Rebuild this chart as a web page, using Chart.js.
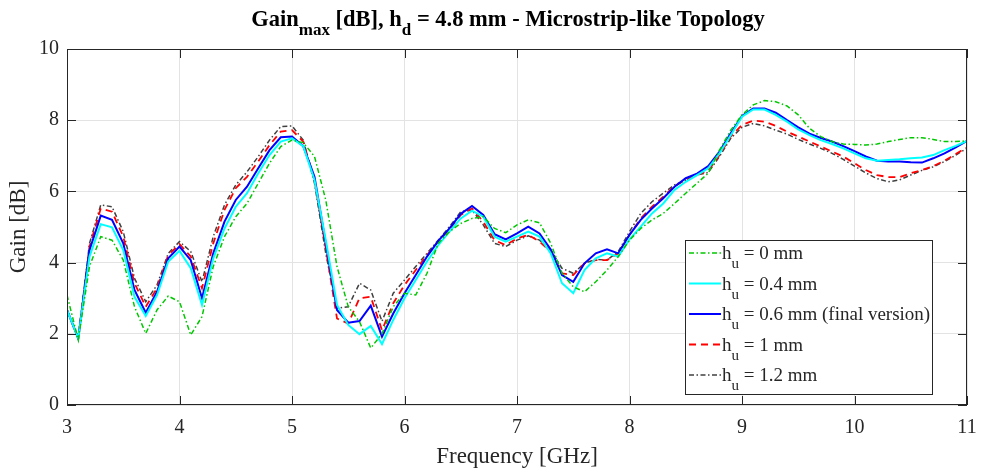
<!DOCTYPE html>
<html>
<head>
<meta charset="utf-8">
<script src="https://cdn.jsdelivr.net/npm/chart.js@4.4.0/dist/chart.umd.min.js"></script>
<style>
  html, body { margin: 0; padding: 0; background: #fff; }
  #wrap { width: 985px; height: 474px; }
</style>
</head>
<body>
<div id="wrap"><canvas id="gainChart" width="985" height="474"></canvas></div>
<script>
// frequency points [GHz]
const freq = [
  3.0, 3.1, 3.2, 3.3, 3.4, 3.5, 3.6, 3.7, 3.8, 3.9,
  4.0, 4.1, 4.2, 4.3, 4.4, 4.5, 4.6, 4.7, 4.8, 4.9,
  5.0, 5.1, 5.2, 5.3, 5.4, 5.5, 5.6, 5.7, 5.8, 5.9,
  6.0, 6.1, 6.2, 6.3, 6.4, 6.5, 6.6, 6.7, 6.8, 6.9,
  7.0, 7.1, 7.2, 7.3, 7.4, 7.5, 7.6, 7.7, 7.8, 7.9,
  8.0, 8.1, 8.2, 8.3, 8.4, 8.5, 8.6, 8.7, 8.8, 8.9,
  9.0, 9.1, 9.2, 9.3, 9.4, 9.5, 9.6, 9.7, 9.8, 9.9,
  10.0, 10.1, 10.2, 10.3, 10.4, 10.5, 10.6, 10.7, 10.8, 10.9,
  11.0
];

// gain [dB] for each h_u
const gainHu0 = [
  3.09, 1.83, 3.89, 4.73, 4.63, 4.07, 2.76, 2.01, 2.67, 3.06,
  2.90, 1.97, 2.48, 3.89, 4.73, 5.29, 5.66, 6.23, 6.79, 7.26,
  7.44, 7.37, 6.98, 5.76, 3.89, 2.76, 2.34, 1.60, 2.00, 2.76,
  3.14, 3.09, 3.70, 4.54, 4.87, 5.10, 5.24, 5.29, 4.96, 4.84,
  5.06, 5.20, 5.12, 4.54, 3.70, 3.32, 3.18, 3.46, 3.79, 4.17,
  4.63, 4.96, 5.20, 5.38, 5.66, 5.95, 6.23, 6.51, 7.16, 7.72,
  8.15, 8.43, 8.55, 8.52, 8.40, 8.15, 7.77, 7.54, 7.40, 7.33,
  7.32, 7.30, 7.33, 7.40, 7.46, 7.51, 7.51, 7.46, 7.40, 7.40,
  7.42
];
const gainHu04 = [
  2.67, 1.87, 4.17, 5.08, 4.99, 4.35, 3.04, 2.50, 3.09, 4.03,
  4.33, 3.84, 2.81, 4.12, 4.96, 5.57, 5.95, 6.51, 7.02, 7.40,
  7.49, 7.27, 6.32, 4.63, 2.81, 2.25, 1.99, 2.22, 1.71, 2.39,
  3.00, 3.51, 4.03, 4.49, 4.87, 5.24, 5.46, 5.29, 4.73, 4.59,
  4.73, 4.87, 4.73, 4.26, 3.42, 3.14, 3.79, 4.12, 4.26, 4.17,
  4.65, 5.01, 5.38, 5.66, 6.04, 6.27, 6.46, 6.65, 7.07, 7.58,
  8.10, 8.30, 8.30, 8.15, 7.96, 7.74, 7.58, 7.44, 7.33, 7.21,
  7.07, 6.93, 6.86, 6.88, 6.90, 6.93, 6.95, 7.02, 7.16, 7.28,
  7.42
];
const gainHu06 = [
  2.67, 1.87, 4.35, 5.32, 5.20, 4.54, 3.23, 2.59, 3.18, 4.12,
  4.45, 4.07, 3.00, 4.26, 5.15, 5.76, 6.13, 6.65, 7.16, 7.52,
  7.54, 7.27, 6.41, 4.54, 2.67, 2.31, 2.36, 2.79, 1.92, 2.57,
  3.14, 3.65, 4.17, 4.61, 4.96, 5.37, 5.59, 5.34, 4.80, 4.65,
  4.82, 5.01, 4.82, 4.37, 3.65, 3.46, 3.98, 4.26, 4.37, 4.26,
  4.78, 5.20, 5.52, 5.81, 6.13, 6.37, 6.50, 6.71, 7.12, 7.63,
  8.12, 8.33, 8.33, 8.21, 8.00, 7.80, 7.62, 7.50, 7.40, 7.27,
  7.13, 6.98, 6.86, 6.84, 6.84, 6.82, 6.81, 6.93, 7.07, 7.24,
  7.42
];
const gainHu1 = [
  2.67, 1.87, 4.45, 5.52, 5.43, 4.73, 3.42, 2.76, 3.28, 4.21,
  4.52, 4.17, 3.28, 4.54, 5.48, 6.09, 6.41, 6.84, 7.30, 7.68,
  7.72, 7.40, 6.32, 4.40, 2.43, 2.29, 3.00, 3.04, 2.10, 2.86,
  3.37, 3.79, 4.21, 4.59, 4.92, 5.34, 5.52, 5.15, 4.63, 4.49,
  4.68, 4.78, 4.59, 4.31, 3.70, 3.65, 3.98, 4.07, 4.07, 4.26,
  4.78, 5.24, 5.57, 5.85, 6.15, 6.32, 6.46, 6.58, 7.02, 7.54,
  7.87, 7.99, 7.96, 7.84, 7.68, 7.54, 7.40, 7.26, 7.12, 6.98,
  6.79, 6.60, 6.46, 6.40, 6.40, 6.51, 6.60, 6.71, 6.86, 7.05,
  7.24
];
const gainHu12 = [
  2.67, 1.87, 4.54, 5.62, 5.57, 4.87, 3.56, 2.90, 3.37, 4.26,
  4.59, 4.31, 3.46, 4.73, 5.62, 6.18, 6.55, 6.98, 7.44, 7.82,
  7.84, 7.44, 6.23, 4.26, 2.72, 2.76, 3.42, 3.23, 2.35, 3.14,
  3.51, 3.89, 4.26, 4.63, 5.01, 5.43, 5.48, 5.06, 4.54, 4.45,
  4.63, 4.75, 4.63, 4.35, 3.84, 3.70, 3.98, 4.09, 4.07, 4.31,
  4.87, 5.38, 5.71, 5.95, 6.18, 6.32, 6.46, 6.53, 6.98, 7.49,
  7.80, 7.91, 7.84, 7.72, 7.61, 7.46, 7.33, 7.21, 7.07, 6.90,
  6.71, 6.52, 6.36, 6.27, 6.32, 6.46, 6.59, 6.69, 6.84, 7.02,
  7.21
];

const legendValues = ['0 mm', '0.4 mm', '0.6 mm (final version)', '1 mm', '1.2 mm'];
const xTicks = [3, 4, 5, 6, 7, 8, 9, 10, 11];
const yTicks = [0, 2, 4, 6, 8, 10];

const SERIF = '"Liberation Serif", "Times New Roman", serif';
const INK = '#262626';

function toPoints(ys) {
  return freq.map((f, i) => ({ x: f, y: ys[i] }));
}

const seriesDefs = [
  { data: gainHu0,  color: '#00c800', width: 1.5, dash: [5, 2.5, 1.5, 2.5] },
  { data: gainHu04, color: '#00ffff', width: 2,   dash: [] },
  { data: gainHu06, color: '#0000ff', width: 2,   dash: [] },
  { data: gainHu1,  color: '#ff0000', width: 1.8, dash: [7, 5] },
  { data: gainHu12, color: '#404040', width: 1.5, dash: [5, 2.5, 1.5, 2.5] }
];

// draw a string made of normal / subscript parts
function richWidth(ctx, parts, font, subFont) {
  let w = 0;
  parts.forEach(p => {
    ctx.font = p.sub ? subFont : font;
    w += ctx.measureText(p.t).width;
  });
  return w;
}
function drawRich(ctx, parts, x, y, font, subFont, subDrop) {
  ctx.textBaseline = 'alphabetic';
  ctx.textAlign = 'left';
  parts.forEach(p => {
    ctx.font = p.sub ? subFont : font;
    ctx.fillText(p.t, x, p.sub ? y + subDrop : y);
    x += ctx.measureText(p.t).width;
  });
}

const decorPlugin = {
  id: 'decor',
  afterDraw(chart) {
    const ctx = chart.ctx;
    const area = chart.chartArea;
    const xs = chart.scales.x, ys = chart.scales.y;
    ctx.save();

    // box and inward ticks
    ctx.strokeStyle = INK;
    ctx.lineWidth = 1;
    ctx.setLineDash([]);
    ctx.strokeRect(area.left + 0.5, area.top + 0.5, area.right - area.left - 1, area.bottom - area.top - 1);
    ctx.beginPath();
    xTicks.forEach(v => {
      const px = Math.round(xs.getPixelForValue(v)) + 0.5;
      ctx.moveTo(px, area.bottom); ctx.lineTo(px, area.bottom - 9);
      ctx.moveTo(px, area.top); ctx.lineTo(px, area.top + 9);
    });
    yTicks.forEach(v => {
      const py = Math.round(ys.getPixelForValue(v)) + 0.5;
      ctx.moveTo(area.left, py); ctx.lineTo(area.left + 9, py);
      ctx.moveTo(area.right, py); ctx.lineTo(area.right - 9, py);
    });
    ctx.stroke();

    // title
    ctx.fillStyle = '#000';
    const tFont = 'bold 22.5px ' + SERIF, tSub = 'bold 17px ' + SERIF;
    const title = [
      { t: 'Gain' }, { t: 'max', sub: true }, { t: ' [dB], h' }, { t: 'd', sub: true },
      { t: ' = 4.8 mm - Microstrip-like Topology' }
    ];
    const tw = richWidth(ctx, title, tFont, tSub);
    drawRich(ctx, title, 508 - tw / 2, 26, tFont, tSub, 9);

    // axis titles
    ctx.fillStyle = INK;
    ctx.font = '23px ' + SERIF;
    ctx.textAlign = 'center';
    ctx.textBaseline = 'middle';
    ctx.fillText('Frequency [GHz]', (area.left + area.right) / 2, 457);
    ctx.save();
    ctx.translate(19, (area.top + area.bottom) / 2);
    ctx.rotate(-Math.PI / 2);
    ctx.fillText('Gain [dB]', 0, 0);
    ctx.restore();

    // legend
    const lx = 685, ly = 240, lw = 247, lh = 154;
    ctx.fillStyle = '#fff';
    ctx.fillRect(lx, ly, lw, lh);
    ctx.strokeStyle = INK;
    ctx.lineWidth = 1;
    ctx.strokeRect(lx + 0.5, ly + 0.5, lw, lh);
    const lFont = '19px ' + SERIF, lSub = '15px ' + SERIF;
    seriesDefs.forEach((s, i) => {
      const rowY = 253 + i * 30.5;
      ctx.strokeStyle = s.color;
      ctx.lineWidth = s.width;
      ctx.setLineDash(s.dash);
      ctx.beginPath();
      ctx.moveTo(689, rowY);
      ctx.lineTo(721, rowY);
      ctx.stroke();
      ctx.setLineDash([]);
      ctx.fillStyle = INK;
      drawRich(ctx, [{ t: 'h' }, { t: 'u', sub: true }, { t: ' = ' + legendValues[i] }],
        722, rowY + 6, lFont, lSub, 9);
    });

    ctx.restore();
  }
};

new Chart(document.getElementById('gainChart').getContext('2d'), {
  type: 'line',
  data: {
    datasets: seriesDefs.map(s => ({
      data: toPoints(s.data),
      borderColor: s.color,
      borderWidth: s.width,
      borderDash: s.dash,
      pointRadius: 0,
      tension: 0,
      fill: false
    }))
  },
  options: {
    responsive: false,
    animation: false,
    devicePixelRatio: 1,
    layout: { padding: { top: 49, right: 18, left: 0, bottom: 0 } },
    plugins: { legend: { display: false }, title: { display: false }, tooltip: { enabled: false } },
    scales: {
      x: {
        type: 'linear', min: 3, max: 11,
        afterBuildTicks: sc => { sc.ticks = xTicks.map(v => ({ value: v })); },
        afterFit: sc => { sc.height = 69; sc.paddingLeft = 0; sc.paddingRight = 0; },
        ticks: { font: { family: SERIF, size: 20 }, color: INK, padding: 11, maxRotation: 0 },
        grid: { color: '#e3e3e3', drawTicks: false },
        border: { display: false }
      },
      y: {
        min: 0, max: 10,
        afterBuildTicks: sc => { sc.ticks = yTicks.map(v => ({ value: v })); },
        afterFit: sc => { sc.width = 67; sc.paddingTop = 0; sc.paddingBottom = 0; },
        ticks: { font: { family: SERIF, size: 20 }, color: INK, padding: 8 },
        grid: { color: '#e3e3e3', drawTicks: false },
        border: { display: false }
      }
    }
  },
  plugins: [decorPlugin]
});
</script>
</body>
</html>
